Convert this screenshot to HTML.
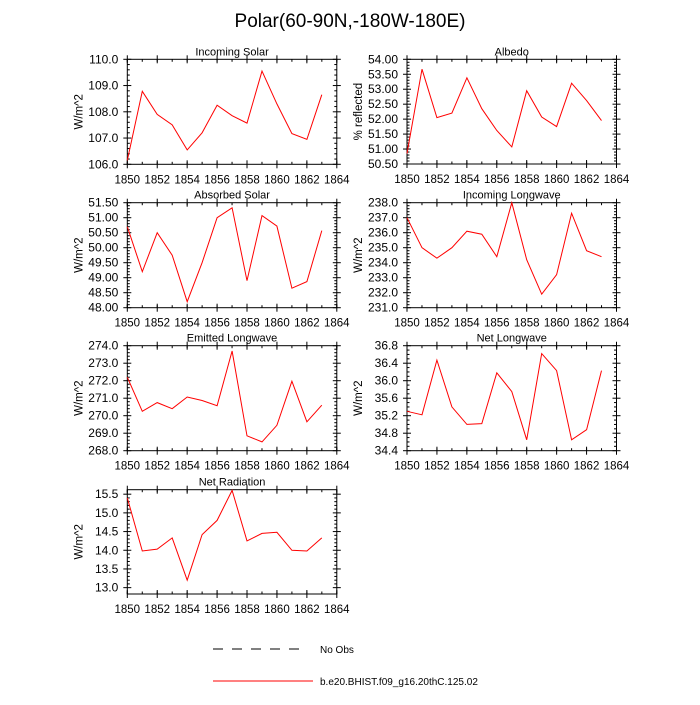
<!DOCTYPE html>
<html><head><meta charset="utf-8"><style>
body{margin:0;background:#fff}
svg text{font-family:"Liberation Sans",Arial,sans-serif;fill:#000}
</style></head><body>
<svg id="chart" width="700" height="700" xmlns="http://www.w3.org/2000/svg">
<text x="350" y="27" font-size="19" text-anchor="middle">Polar(60-90N,-180W-180E)</text>
<g id="panels"></g>
<g>
<line x1="213" y1="649" x2="306" y2="649" stroke="#000" stroke-width="1" stroke-dasharray="10,9"/>
<text x="320" y="653" font-size="10">No Obs</text>
<line x1="213" y1="681" x2="313" y2="681" stroke="#f00" stroke-width="1"/>
<text x="320" y="685" font-size="10">b.e20.BHIST.f09_g16.20thC.125.02</text>
</g>
</svg>
<script>
const years = [1850,1851,1852,1853,1854,1855,1856,1857,1858,1859,1860,1861,1862,1863];
const xTicks = [1850,1852,1854,1856,1858,1860,1862,1864];
const incomingSolar = [106.15,108.78,107.9,107.5,106.55,107.2,108.25,107.85,107.57,109.55,108.3,107.17,106.95,108.65];
const albedo = [50.85,53.67,52.05,52.2,53.38,52.35,51.62,51.07,52.95,52.07,51.75,53.2,52.62,51.95];
const absorbedSolar = [50.7,49.2,50.5,49.75,48.2,49.5,51.0,51.33,48.9,51.07,50.72,48.65,48.87,50.57];
const incomingLW = [237.0,235.0,234.3,235.0,236.1,235.9,234.4,238.0,234.2,231.9,233.2,237.3,234.8,234.4];
const emittedLW = [272.2,270.25,270.75,270.4,271.07,270.87,270.57,273.7,268.85,268.5,269.45,271.97,269.65,270.6];
const netLW = [35.3,35.22,36.47,35.4,35.0,35.02,36.18,35.75,34.65,36.62,36.23,34.65,34.88,36.23];
const netRad = [15.4,13.98,14.03,14.33,13.2,14.42,14.8,15.6,14.25,14.45,14.48,14.0,13.98,14.33];
const ticksIS = ["106.0","107.0","108.0","109.0","110.0"];
const ticksAlb = ["50.50","51.00","51.50","52.00","52.50","53.00","53.50","54.00"];
const ticksAbs = ["48.00","48.50","49.00","49.50","50.00","50.50","51.00","51.50"];
const ticksILW = ["231.0","232.0","233.0","234.0","235.0","236.0","237.0","238.0"];
const ticksELW = ["268.0","269.0","270.0","271.0","272.0","273.0","274.0"];
const ticksNLW = ["34.4","34.8","35.2","35.6","36.0","36.4","36.8"];
const ticksNR = ["13.0","13.5","14.0","14.5","15.0","15.5"];

const NS="http://www.w3.org/2000/svg";
const root=document.getElementById('panels');
function mk(tag,attrs,parent){const e=document.createElementNS(NS,tag);for(const k in attrs)e.setAttribute(k,attrs[k]);parent.appendChild(e);return e;}

const panels=[
 {name:'incoming-solar',title:'Incoming Solar',yl:'W/m^2',data:incomingSolar,ticks:ticksIS,ymin:106,ymax:110,minor:5,left:127.3,top:59.3,bottom:164.3},
 {name:'albedo',title:'Albedo',yl:'% reflected',data:albedo,ticks:ticksAlb,ymin:50.5,ymax:54,minor:5,left:407,top:59.3,bottom:164},
 {name:'absorbed-solar',title:'Absorbed Solar',yl:'W/m^2',data:absorbedSolar,ticks:ticksAbs,ymin:48,ymax:51.5,minor:5,left:127.3,top:202.7,bottom:307.7},
 {name:'incoming-longwave',title:'Incoming Longwave',yl:'W/m^2',data:incomingLW,ticks:ticksILW,ymin:231,ymax:238,minor:5,left:407,top:202.7,bottom:307.7},
 {name:'emitted-longwave',title:'Emitted Longwave',yl:'W/m^2',data:emittedLW,ticks:ticksELW,ymin:268,ymax:274,minor:5,left:127.3,top:345.7,bottom:450.7},
 {name:'net-longwave',title:'Net Longwave',yl:'W/m^2',data:netLW,ticks:ticksNLW,ymin:34.4,ymax:36.8,minor:4,left:407,top:345.7,bottom:450.7},
 {name:'net-radiation',title:'Net Radiation',yl:'W/m^2',data:netRad,ticks:ticksNR,ymin:12.83,ymax:15.62,minor:5,left:127.3,top:489.7,bottom:594},
];
const W=209.5;
panels.forEach(p=>{
 const g=mk('g',{},root);
 
 
 const L=p.left,R=L+W,T=p.top,B=p.bottom;
 const xs=v=>L+(v-1850)/14*W;
 const ys=v=>B-(v-p.ymin)/(p.ymax-p.ymin)*(B-T);
 const t=mk('text',{x:(L+R)/2,y:T-4,'font-size':11,'text-anchor':'middle'},g);t.textContent=p.title;
 
 
 const yl=mk('text',{x:0,y:0,'font-size':11.5,'text-anchor':'middle',transform:`translate(${L-45},${(T+B)/2}) rotate(-90)`},g);yl.textContent=p.yl;
 
 
 xTicks.forEach(v=>{const x=xs(v);
  mk('line',{x1:x,y1:B+4,x2:x,y2:B-4,stroke:'#000'},g);mk('line',{x1:x,y1:T+4,x2:x,y2:T-4,stroke:'#000'},g);
  const tx=mk('text',{x:x,y:B+19,'font-size':11.5,'text-anchor':'middle'},g);tx.textContent=v;
  
  
 });
 for(let v=1850;v<=1864;v++){const x=xs(v);mk('line',{x1:x,y1:B,x2:x,y2:B-2.5,stroke:'#000'},g);mk('line',{x1:x,y1:T,x2:x,y2:T+2.5,stroke:'#000'},g);}
 p.ticks.forEach((s,i)=>{const v=parseFloat(s);const y=ys(v);
  mk('line',{x1:L-4,y1:y,x2:L+4,y2:y,stroke:'#000'},g);mk('line',{x1:R-4,y1:y,x2:R+4,y2:y,stroke:'#000'},g);
  const ty=mk('text',{x:L-9,y:y+4,'font-size':12,'text-anchor':'end'},g);ty.textContent=s;
  
  
  if(i<p.ticks.length-1){const step=(parseFloat(p.ticks[i+1])-v)/p.minor;
   for(let k=1;k<p.minor;k++){const yy=ys(v+k*step);mk('line',{x1:L,y1:yy,x2:L+2.5,y2:yy,stroke:'#000'},g);mk('line',{x1:R,y1:yy,x2:R-2.5,y2:yy,stroke:'#000'},g);}}
 });
 mk('rect',{x:L,y:T,width:W,height:B-T,fill:'none',stroke:'#000','stroke-width':1},g);
 const pts=p.data.map((v,i)=>xs(years[i]).toFixed(1)+','+ys(v).toFixed(1)).join(' ');
 const pl=mk('polyline',{points:pts,fill:'none',stroke:'#f00','stroke-width':1},g);
 
 
});
</script>
</body></html>
